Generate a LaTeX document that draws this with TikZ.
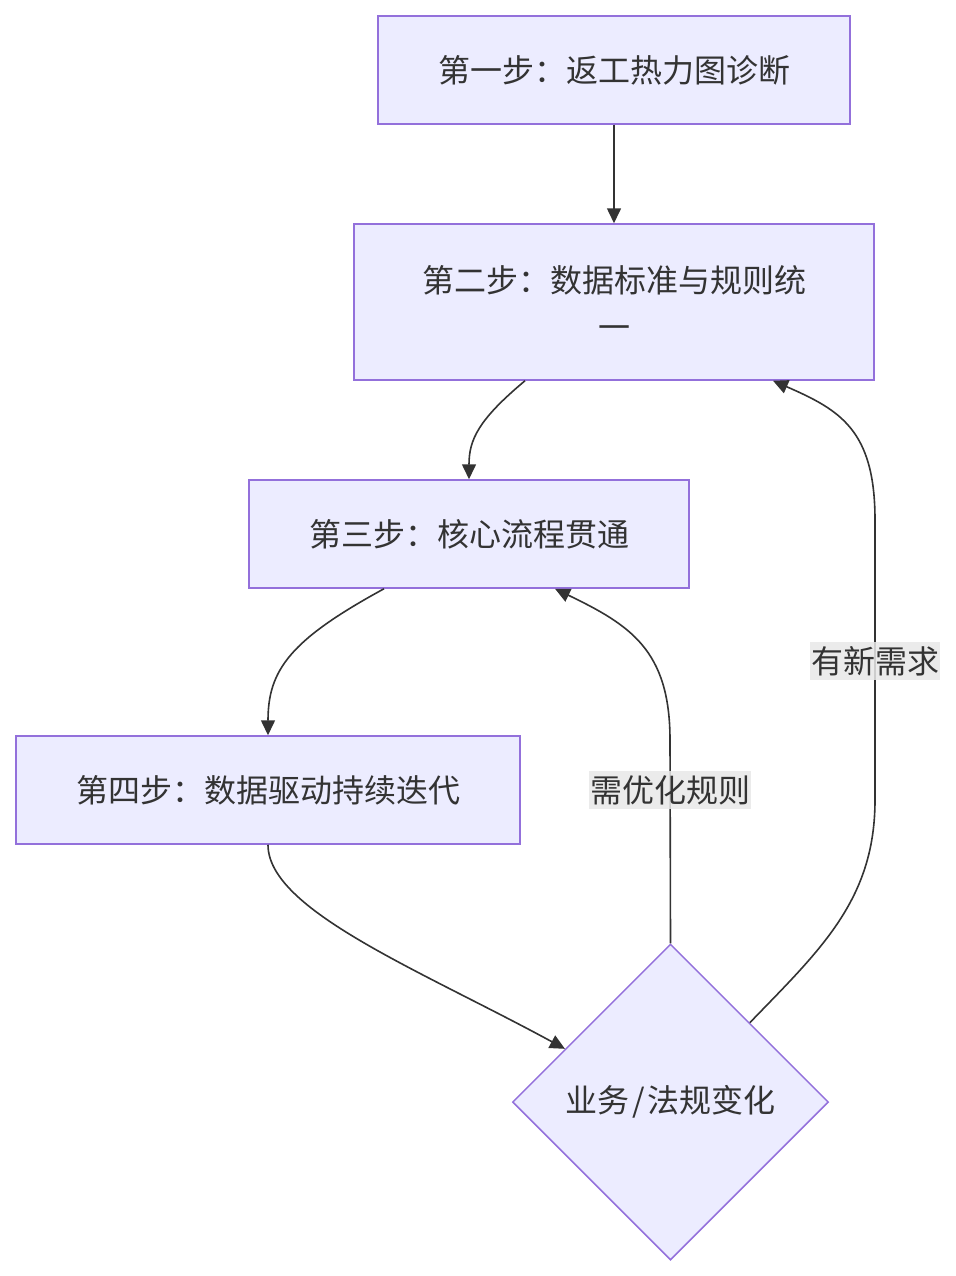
\documentclass[tikz,border=0pt]{standalone}
\usepackage{fontspec}
\setmainfont{Noto Sans CJK SC}
\usetikzlibrary{shapes.geometric,arrows.meta,calc}
\definecolor{nodefill}{HTML}{ECECFF}
\definecolor{nodeline}{HTML}{9370DB}
\definecolor{txt}{HTML}{333333}
\definecolor{lblbg}{HTML}{E8E8E8}
\begin{document}
\begin{tikzpicture}[x=1pt,y=-1pt,
  stepbox/.style={draw=nodeline,fill=nodefill,line width=1.5pt,text=txt,inner sep=0pt,font=\fontsize{32}{47}\selectfont,align=center},
  decide/.style={diamond,aspect=1,draw=nodeline,fill=nodefill,line width=1.5pt,text=txt,inner sep=0pt,minimum size=316pt,font=\fontsize{32}{40}\selectfont},
  conn/.style={draw=txt,line width=1.6pt,-{Triangle[length=15pt,width=14pt]}},
  lbl/.style={fill=lblbg,fill opacity=0.85,text opacity=1,text=txt,inner xsep=1pt,inner ysep=4pt,font=\fontsize{32}{38}\selectfont}]
\useasboundingbox (0,0) rectangle (955,1276);
\node[stepbox,minimum width=472pt,minimum height=108pt] (b1) at (614,70) {第一步：返工热力图诊断};
\node[stepbox,minimum width=520pt,minimum height=156pt] (b2) at (614,302) {第二步：数据标准与规则统\\一};
\node[stepbox,minimum width=440pt,minimum height=108pt] (b3) at (469,534) {第三步：核心流程贯通};
\node[stepbox,minimum width=504pt,minimum height=108pt] (b4) at (268,790) {第四步：数据驱动持续迭代};
\node[decide] (d) at (670.5,1102) {业务\kern3pt/\kern3pt法规变化};

\draw[conn] (b1.south) -- (b2.north);
\draw[conn] ([xshift=-89pt]b2.south) .. controls (478,420) and (469,440) .. (b3.north);
\draw[conn] ([xshift=-85pt]b3.south) .. controls (290,640) and (268,670) .. (b4.north);
\draw[conn] (b4.south) .. controls (268,910) and (420,970) .. ($(d.west)!0.335!(d.north)$);
\draw[conn] (d.north) -- (670,740) .. controls (670,650) and (630,625) .. ([xshift=86pt]b3.south);
\draw[conn] (d.north east) .. controls (820,950) and (875,900) .. (875,800) -- (875,520) .. controls (875,430) and (840,410) .. ([xshift=159pt]b2.south);

\node[lbl] (l1) at (670,790) {需优化规则};
\node[lbl] (l2) at (875,661) {有新需求};
\end{tikzpicture}
\end{document}
